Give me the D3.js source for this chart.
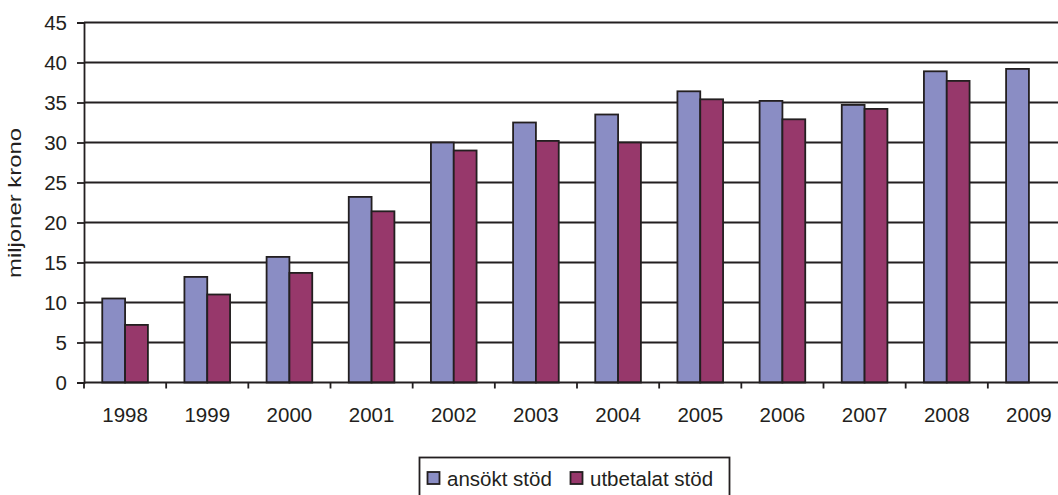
<!DOCTYPE html>
<html>
<head>
<meta charset="utf-8">
<script src="https://cdn.jsdelivr.net/npm/d3@7"></script>
<style>
  html, body { margin: 0; padding: 0; background: #fff; overflow: hidden; }
  svg { display: block; font-family: "Liberation Sans", Arial, sans-serif; }
</style>
</head>
<body>
<svg id="chart" width="1058" height="495"></svg>
<script>
// Stödbelopp per år (miljoner kronor)
const years = ["1998","1999","2000","2001","2002","2003","2004","2005","2006","2007","2008","2009"];
const seriesNames = ["ansökt stöd", "utbetalat stöd"];
const ansokt = [10.5, 13.2, 15.7, 23.2, 30.0, 32.5, 33.5, 36.4, 35.2, 34.7, 38.9, 39.2];
const utbetalat = [7.2, 11.0, 13.7, 21.4, 29.0, 30.2, 30.0, 35.4, 32.9, 34.2, 37.7, null];
const yTicks = [0, 5, 10, 15, 20, 25, 30, 35, 40, 45];
const colors = ["#8a8dc4", "#97386b"];
const ink = "#231f20";
const lw = 1.8;
const fontSize = 20.5;

const svg = d3.select("#chart");

const x = d3.scaleBand().domain(years).range([84, 1070]).padding(0);
const xs = d3.scaleBand().domain(seriesNames).range([0, x.bandwidth()])
  .paddingInner(0).paddingOuter(0.8);
const y = d3.scaleLinear().domain([0, 45]).range([382.5, 22.5]);

// horizontal gridlines
svg.append("g")
  .selectAll("line")
  .data(yTicks.filter(d => d > 0))
  .join("line")
  .attr("x1", 84).attr("x2", 1070)
  .attr("y1", d => y(d)).attr("y2", d => y(d))
  .attr("stroke", ink).attr("stroke-width", lw);

// bars
const rows = years.map((yr, i) => ({ year: yr, values: [ansokt[i], utbetalat[i]] }));
svg.append("g")
  .selectAll("g")
  .data(rows)
  .join("g")
  .attr("transform", d => `translate(${x(d.year)},0)`)
  .selectAll("rect")
  .data(d => d.values.map((v, j) => ({ key: seriesNames[j], v, j })).filter(e => e.v != null))
  .join("rect")
  .attr("x", d => xs(d.key))
  .attr("width", xs.bandwidth())
  .attr("y", d => y(d.v))
  .attr("height", d => y(0) - y(d.v))
  .attr("fill", d => colors[d.j])
  .attr("stroke", ink)
  .attr("stroke-width", lw);

// y axis
const yAxis = svg.append("g")
  .attr("transform", "translate(84,0)")
  .call(d3.axisLeft(y).tickValues(yTicks).tickSize(7).tickPadding(10));
yAxis.select(".domain").attr("stroke", ink).attr("stroke-width", lw);
yAxis.selectAll(".tick line").attr("stroke", ink).attr("stroke-width", lw);
yAxis.selectAll(".tick text").attr("font-size", fontSize).attr("fill", ink)
  .attr("font-family", "Liberation Sans, Arial, sans-serif");

// x axis: labels centred in bands, ticks at band boundaries
const xAxis = svg.append("g")
  .attr("transform", `translate(0,${y(0)})`)
  .call(d3.axisBottom(x).tickSize(0).tickPadding(25));
xAxis.select(".domain").remove();
xAxis.selectAll(".tick text").attr("font-size", fontSize).attr("fill", ink)
  .attr("font-family", "Liberation Sans, Arial, sans-serif");
svg.append("line")
  .attr("x1", 84).attr("x2", 1070)
  .attr("y1", y(0)).attr("y2", y(0))
  .attr("stroke", ink).attr("stroke-width", lw);
svg.append("g")
  .selectAll("line")
  .data(years)
  .join("line")
  .attr("x1", d => x(d)).attr("x2", d => x(d))
  .attr("y1", y(0)).attr("y2", y(0) + 6)
  .attr("stroke", ink).attr("stroke-width", lw);

// y axis title
svg.append("text")
  .attr("transform", "translate(21,203) rotate(-90)")
  .attr("text-anchor", "middle")
  .attr("font-size", 19)
  .attr("fill", ink)
  .attr("textLength", 150)
  .attr("lengthAdjust", "spacingAndGlyphs")
  .text("miljoner krono");

// legend
const legend = svg.append("g");
legend.append("rect")
  .attr("x", 419.5).attr("y", 457.5)
  .attr("width", 310).attr("height", 60)
  .attr("fill", "#fff").attr("stroke", ink).attr("stroke-width", lw);
const legendItems = [
  { name: seriesNames[0], color: colors[0], sx: 427.5, tx: 447 },
  { name: seriesNames[1], color: colors[1], sx: 570.5, tx: 590 }
];
legendItems.forEach(it => {
  legend.append("rect")
    .attr("x", it.sx).attr("y", 472)
    .attr("width", 12).attr("height", 12)
    .attr("fill", it.color).attr("stroke", ink).attr("stroke-width", lw);
  legend.append("text")
    .attr("x", it.tx).attr("y", 485.5)
    .attr("font-size", fontSize).attr("fill", ink)
    .text(it.name);
});
</script>
</body>
</html>
